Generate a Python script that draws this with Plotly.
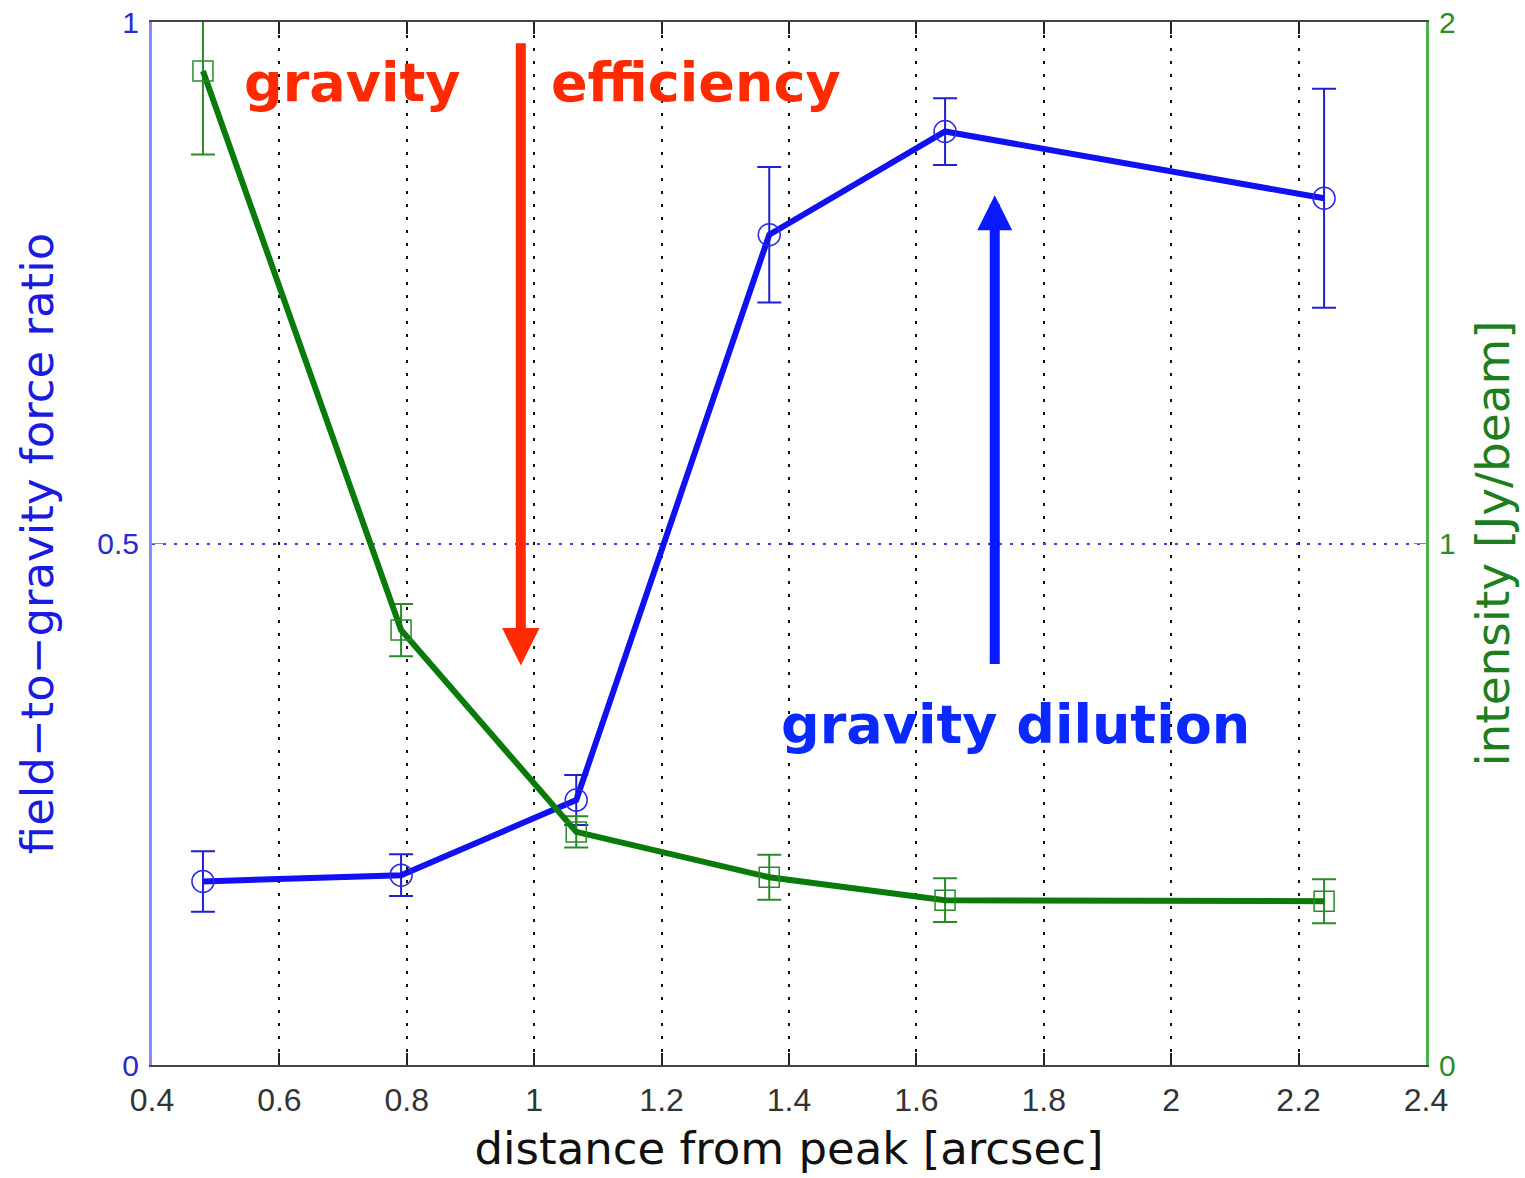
import plotly.graph_objects as go

# Data
distance = [0.48, 0.791, 1.066, 1.369, 1.645, 2.24]
ratio = [0.176, 0.182, 0.254, 0.796, 0.895, 0.831]
ratio_err = [0.029, 0.020, 0.024, 0.065, 0.032, 0.105]
intensity = [1.906, 0.834, 0.447, 0.360, 0.316, 0.314]
intensity_err = [0.16, 0.05, 0.03, 0.043, 0.042, 0.042]

x_ticks = [0.4, 0.6, 0.8, 1.0, 1.2, 1.4, 1.6, 1.8, 2.0, 2.2, 2.4]
x_ticklabels = ["0.4", "0.6", "0.8", "1", "1.2", "1.4", "1.6", "1.8", "2", "2.2", "2.4"]
y1_ticks = [0, 0.5, 1]
y1_ticklabels = ["0", "0.5", "1"]
y2_ticks = [0, 1, 2]
y2_ticklabels = ["0", "1", "2"]

BLUE = "#1010f0"
GREEN = "#0a7a0a"
RED = "#ff2a00"
TEXTBLUE = "#0a28ff"
FONT = "Liberation Sans, Arial, sans-serif"
TITLE_FONT = "DejaVu Sans, sans-serif"
ANN_FONT = "DejaVu Sans, sans-serif"

fig = go.Figure()

fig.add_trace(go.Scatter(
    x=distance, y=ratio, mode="lines+markers",
    line=dict(color=BLUE, width=6),
    marker=dict(symbol="circle-open", size=22, color="#2a2ae8", line=dict(width=1.5)),
    error_y=dict(type="data", array=ratio_err, color="#2020d0", thickness=2, width=12),
    yaxis="y", showlegend=False,
))
fig.add_trace(go.Scatter(
    x=distance, y=intensity, mode="lines+markers",
    line=dict(color=GREEN, width=6),
    marker=dict(symbol="square-open", size=20, color="#2a8a2a", line=dict(width=1.5)),
    error_y=dict(type="data", array=intensity_err, color="#2a8a2a", thickness=2, width=12),
    yaxis="y2", showlegend=False, cliponaxis=True,
))

annotations = [
    dict(x=0.714, y=0.942, xref="x", yref="y", text="<b>gravity</b>", showarrow=False,
         font=dict(family=ANN_FONT, size=54, color=RED)),
    dict(x=1.254, y=0.942, xref="x", yref="y", text="<b>efficiency</b>", showarrow=False,
         font=dict(family=ANN_FONT, size=54, color=RED)),
    dict(x=1.755, y=0.326, xref="x", yref="y", text="<b>gravity dilution</b>", showarrow=False,
         font=dict(family=ANN_FONT, size=54, color=TEXTBLUE)),
    dict(x=0.979, y=0.383, ax=0.979, ay=0.981, xref="x", yref="y", axref="x", ayref="y",
         text="", showarrow=True, arrowhead=2, arrowsize=0.75, arrowwidth=10, arrowcolor=RED),
    dict(x=1.723, y=0.834, ax=1.723, ay=0.383, xref="x", yref="y", axref="x", ayref="y",
         text="", showarrow=True, arrowhead=2, arrowsize=0.7, arrowwidth=10, arrowcolor="#0a1aff"),
]

fig.update_layout(
    width=1525, height=1178,
    margin=dict(l=152, r=99, t=22, b=113, autoexpand=False),
    paper_bgcolor="white", plot_bgcolor="white",
    font=dict(family=FONT),
    xaxis=dict(
        range=[0.4, 2.4], tickvals=x_ticks, ticktext=x_ticklabels,
        ticks="inside", ticklen=12, tickcolor="#222222", tickwidth=2,
        showline=True, linecolor="#444444", linewidth=2, mirror="ticks",
        showgrid=True, gridcolor="#111111", griddash="3px,10px", gridwidth=2,
        zeroline=False, ticklabelstandoff=6, automargin=False,
        tickfont=dict(size=32, color="#333333"),
        title=dict(text="distance from peak [arcsec]", font=dict(family=TITLE_FONT, size=45, color="#111111"), standoff=15),
    ),
    yaxis=dict(
        range=[0, 1], tickvals=y1_ticks, ticktext=y1_ticklabels,
        ticks="inside", ticklen=12, tickcolor="#8080ff",
        showline=True, linecolor="#8888ff", linewidth=3,
        showgrid=True, gridcolor="#4040e0", griddash="3px,8px", gridwidth=2,
        zeroline=False, ticklabelstandoff=4, automargin=False,
        tickfont=dict(size=30, color="#2a2ad0"),
        title=dict(text="field\u2212to\u2212gravity force ratio", font=dict(family=TITLE_FONT, size=45, color="#1a1ae0"), standoff=30),
    ),
    yaxis2=dict(
        range=[0, 2], tickvals=y2_ticks, ticktext=y2_ticklabels,
        overlaying="y", side="right",
        ticks="inside", ticklen=12, tickcolor="#4caf50",
        showline=True, linecolor="#4caf50", linewidth=3,
        showgrid=False, zeroline=False, ticklabelstandoff=4, automargin=False,
        tickfont=dict(size=30, color="#2e8b2e"),
        title=dict(text="intensity [Jy/beam]", font=dict(family=TITLE_FONT, size=47, color="#1e7e1e"), standoff=22),
    ),
    annotations=annotations,
)

fig.write_html("out.html")
